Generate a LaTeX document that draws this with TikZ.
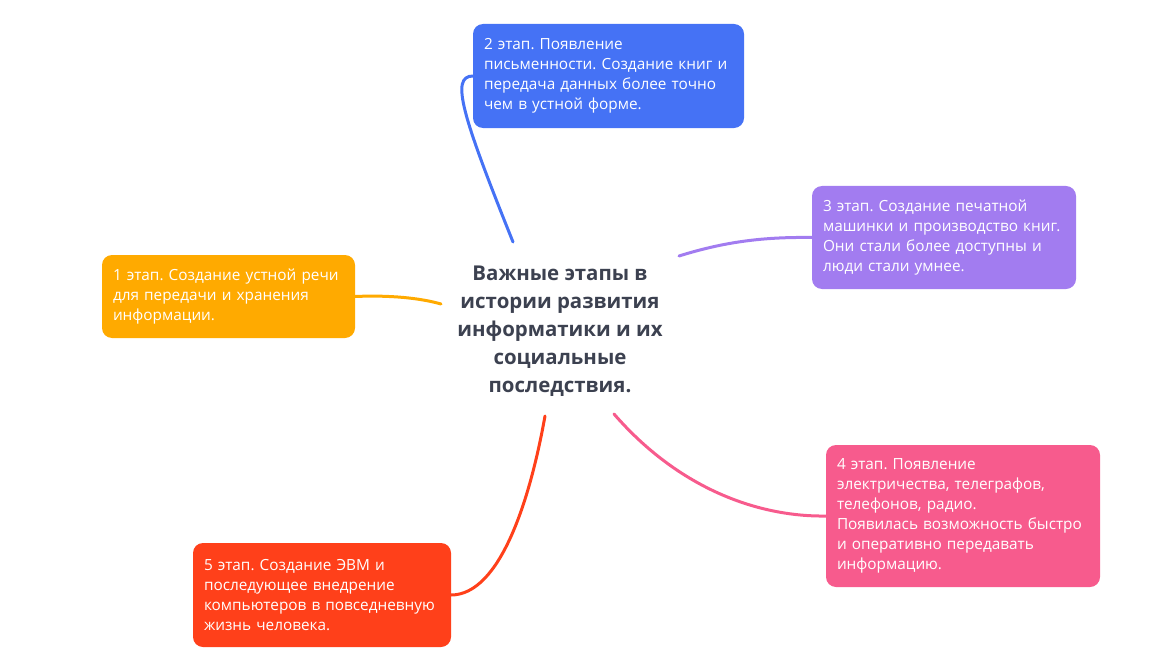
\documentclass[tikz,border=0pt]{standalone}
\usepackage{fontspec}
\setmainfont{Open Sans}
\definecolor{stOrange}{HTML}{FFAA00}
\definecolor{stBlue}{HTML}{4572F5}
\definecolor{stPurple}{HTML}{A27CF0}
\definecolor{stPink}{HTML}{F75B8D}
\definecolor{stRed}{HTML}{FF401A}
\definecolor{titleGray}{HTML}{3C4150}

\tikzset{every picture/.style={line width=3bp},
  stage/.style={anchor=north west, rounded corners=10bp, text=white, align=left,
    outer sep=0bp, inner xsep=11bp, inner ysep=0bp, font=\fontsize{15.4}{20}\selectfont},
  link/.style={line cap=round}}

\begin{document}
\frenchspacing
\begin{tikzpicture}[x=1bp,y=1bp,yscale=-1]
\useasboundingbox (0,0) rectangle (1174,667);

% Title Node
\node (title) [text=titleGray, align=center, font=\bfseries\fontsize{20.5}{28}\selectfont] at (560,331)
  {Важные этапы в\\истории развития\\информатики и их\\социальные\\последствия.};

% Stage Nodes
\node (st1) [stage, fill=stOrange, text width=231bp, minimum height=83bp] at (102,255)
  {1 этап. Создание устной речи\\для передачи и хранения\\информации.};
\node (st2) [stage, fill=stBlue, text width=249bp, minimum height=104bp] at (473,24)
  {2 этап. Появление\\письменности. Создание книг и\\передача данных более точно\\чем в устной форме.};
\node (st3) [stage, fill=stPurple, text width=242bp, minimum height=103bp] at (812,186)
  {3 этап. Создание печатной\\машинки и производство книг.\\Они стали более доступны и\\люди стали умнее.};
\node (st4) [stage, fill=stPink, text width=252bp, minimum height=142bp] at (826,445)
  {4 этап. Появление\\электричества, телеграфов,\\телефонов, радио.\\Появилась возможность быстро\\и оперативно передавать\\информацию.};
\node (st5) [stage, fill=stRed, text width=236bp, minimum height=104bp] at (193,543)
  {5 этап. Создание ЭВМ и\\последующее внедрение\\компьютеров в повседневную\\жизнь человека.};

% Hub ends
\coordinate (h1) at (441,304);
\coordinate (h2) at (513,242);
\coordinate (h3) at (679,256);
\coordinate (h4) at (614,414);
\coordinate (h5) at (545,416);

%Curve Lines
\draw [link, stOrange] (h1) .. controls (420,298) and (390,295) .. (st1.east);
%Curve Lines
\draw [link, stBlue] (h2) .. controls (462,115) and (450,76) .. (st2.west);
%Curve Lines
\draw [link, stPurple] (h3) .. controls (730,240) and (770,237) .. (st3.west);
%Curve Lines
\draw [link, stPink] (h4) .. controls (680,490) and (760,517) .. (st4.west);
%Curve Lines
\draw [link, stRed] (h5) .. controls (530,500) and (500,595) .. (st5.east);

\end{tikzpicture}
\end{document}
